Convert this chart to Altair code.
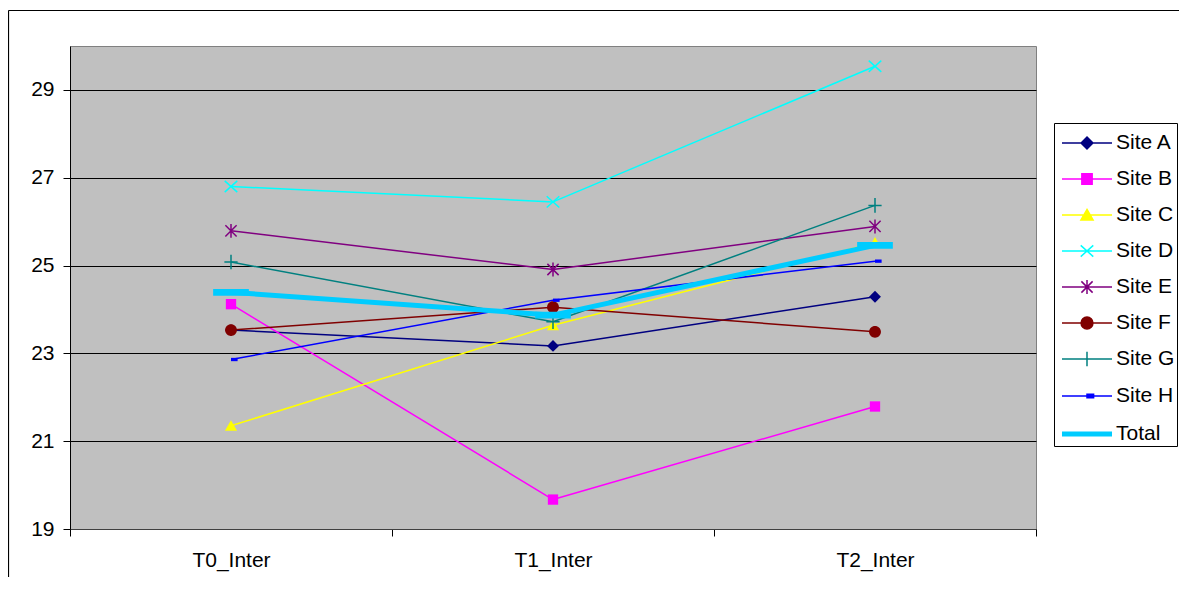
import altair as alt
import pandas as pd

times = ["T0_Inter", "T1_Inter", "T2_Inter"]
series = ["Site A", "Site B", "Site C", "Site D", "Site E", "Site F", "Site G", "Site H", "Total"]
site_a = [23.53, 23.17, 24.29]
site_b = [24.12, 19.67, 21.79]
site_c = [21.35, 23.64, 25.52]
site_d = [26.80, 26.45, 29.54]
site_e = [25.79, 24.91, 25.89]
site_f = [23.53, 24.05, 23.49]
site_g = [25.08, 23.72, 26.37]
site_h = [22.86, 24.21, 25.10]
total = [24.39, 23.87, 25.46]
colors = ["#000080", "#FF00FF", "#FFFF00", "#00FFFF", "#800080", "#800000", "#008080", "#0000FF", "#00CCFF"]
widths = [1.5, 1.5, 1.5, 1.5, 1.5, 1.5, 1.5, 1.5, 5]
y_ticks = [19, 21, 23, 25, 27, 29]

all_vals = [site_a, site_b, site_c, site_d, site_e, site_f, site_g, site_h, total]
rows = []
for s, vals in zip(series, all_vals):
    for t, v in zip(times, vals):
        rows.append({"time": t, "series": s, "value": v})
df = pd.DataFrame(rows)

FONT = "Liberation Sans"
FS = 21
W, H = 966, 483


def marker_paths(k):
    f = lambda v: f"{v * k:.4f}"
    return {
        "Site A": f"M0,{f(-0.9)}L{f(0.9)},0L0,{f(0.9)}L{f(-0.9)},0Z",
        "Site B": f"M{f(-0.78)},{f(-0.78)}H{f(0.78)}V{f(0.78)}H{f(-0.78)}Z",
        "Site C": f"M0,{f(-0.85)}L{f(0.92)},{f(0.75)}L{f(-0.92)},{f(0.75)}Z",
        "Site D": f"M{f(-0.95)},{f(-0.85)}L{f(0.95)},{f(0.85)}M{f(-0.95)},{f(0.85)}L{f(0.95)},{f(-0.85)}",
        "Site E": f"M{f(-0.85)},{f(-0.85)}L{f(0.85)},{f(0.85)}M{f(-0.85)},{f(0.85)}L{f(0.85)},{f(-0.85)}M0,{f(-1.05)}V{f(1.05)}",
        "Site F": f"M{f(0.9)},0A{f(0.9)},{f(0.9)},0,1,1,{f(-0.9)},0A{f(0.9)},{f(0.9)},0,1,1,{f(0.9)},0Z",
        "Site G": f"M{f(-1)},0H{f(1)}M0,{f(-1.1)}V{f(1.1)}",
        "Site H": f"M0,{f(-0.25)}H{f(1)}V{f(0.25)}H0Z",
        "Total": f"M{f(-2.7)},{f(-0.5)}H{f(2.7)}V{f(0.5)}H{f(-2.7)}Z",
    }


chart_markers = marker_paths(1.0)
leg_k = 6.6 / 17.25
leg_markers = marker_paths(leg_k)
legend_paths = []
for s in series:
    if s == "Total":
        legend_paths.append("M-1.45,0H1.45")
    else:
        legend_paths.append("M-1.45,0H1.45" + leg_markers[s])
open_markers = {"Site D", "Site E", "Site G"}

x_enc = alt.X(
    "time:N", sort=times, bandPosition=0.5,
    scale=alt.Scale(type="band", domain=times, paddingInner=0, paddingOuter=0),
    axis=alt.Axis(title=None, tickBand="extent", ticks=True, tickSize=7, tickColor="black",
                  domainColor="#404040", labelFont=FONT, labelFontSize=FS, labelColor="black",
                  labelPadding=13, grid=False, labelAngle=0),
)
y_enc = alt.Y(
    "value:Q",
    scale=alt.Scale(domain=[19, 30], nice=False, zero=False),
    axis=alt.Axis(title=None, values=y_ticks, grid=True, gridColor="black", gridWidth=1,
                  tickSize=7, tickColor="black", domainColor="black", labelFont=FONT,
                  labelFontSize=FS, labelColor="black", labelPadding=9),
)
color_scale = alt.Scale(domain=series, range=colors)
width_scale = alt.Scale(type="ordinal", domain=series, range=widths)

one = pd.DataFrame({"k": [0]})
frame_left = alt.Chart(one).mark_rule(color="black", strokeWidth=1.2).encode(
    x=alt.value(-61.5), y=alt.value(-35.5), y2=alt.value(540))
frame_top = alt.Chart(one).mark_rule(color="black", strokeWidth=1.2).encode(
    x=alt.value(-61.5), x2=alt.value(1110), y=alt.value(-35.5))

lines = alt.Chart(df).mark_line(strokeJoin="round").encode(
    x=x_enc, y=y_enc,
    color=alt.Color("series:N", scale=color_scale, legend=None),
    strokeWidth=alt.StrokeWidth("series:N", scale=width_scale, legend=None),
)

marker_layers = []
for s in series:
    is_open = s in open_markers
    marker_layers.append(
        alt.Chart(df).transform_filter(alt.datum.series == s).mark_point(
            shape=chart_markers[s], size=175, filled=not is_open, opacity=1,
            strokeWidth=1.5 if is_open else 0.5,
        ).encode(x=x_enc, y=y_enc, color=alt.Color("series:N", scale=color_scale, legend=None))
    )

leg_props = dict(
    title=None, orient="none", legendX=984, legendY=77, direction="vertical",
    symbolSize=1190, symbolStrokeWidth=1.5, symbolOffset=11, labelOffset=9,
    labelFont=FONT, labelFontSize=FS, labelColor="black", padding=2, rowPadding=8.0,
    strokeColor="black", fillColor="white", symbolOpacity=1,
)
legend_layer = alt.Chart(df).transform_filter("false").mark_point(filled=True, opacity=1).encode(
    x=x_enc, y=y_enc,
    color=alt.Color("series:N", scale=color_scale, legend=alt.Legend(**leg_props)),
    stroke=alt.Stroke("series:N", scale=alt.Scale(domain=series, range=colors), legend=alt.Legend(**leg_props)),
    shape=alt.Shape("series:N", scale=alt.Scale(domain=series, range=legend_paths), legend=alt.Legend(**leg_props)),
    strokeWidth=alt.StrokeWidth("series:N", scale=width_scale, legend=alt.Legend(**leg_props)),
)

chart = alt.layer(frame_left, frame_top, lines, *marker_layers, legend_layer).resolve_legend(
    color="independent", stroke="independent", shape="independent", strokeWidth="independent"
).properties(
    width=W, height=H,
    padding={"left": 62, "top": 38, "right": 143, "bottom": 48},
    autosize=alt.AutoSizeParams(type="none"),
    background="white",
).configure_view(fill="#C0C0C0", stroke="#808080", strokeWidth=1)

chart.save("out.html", embed_options={"renderer": "svg", "actions": False})
